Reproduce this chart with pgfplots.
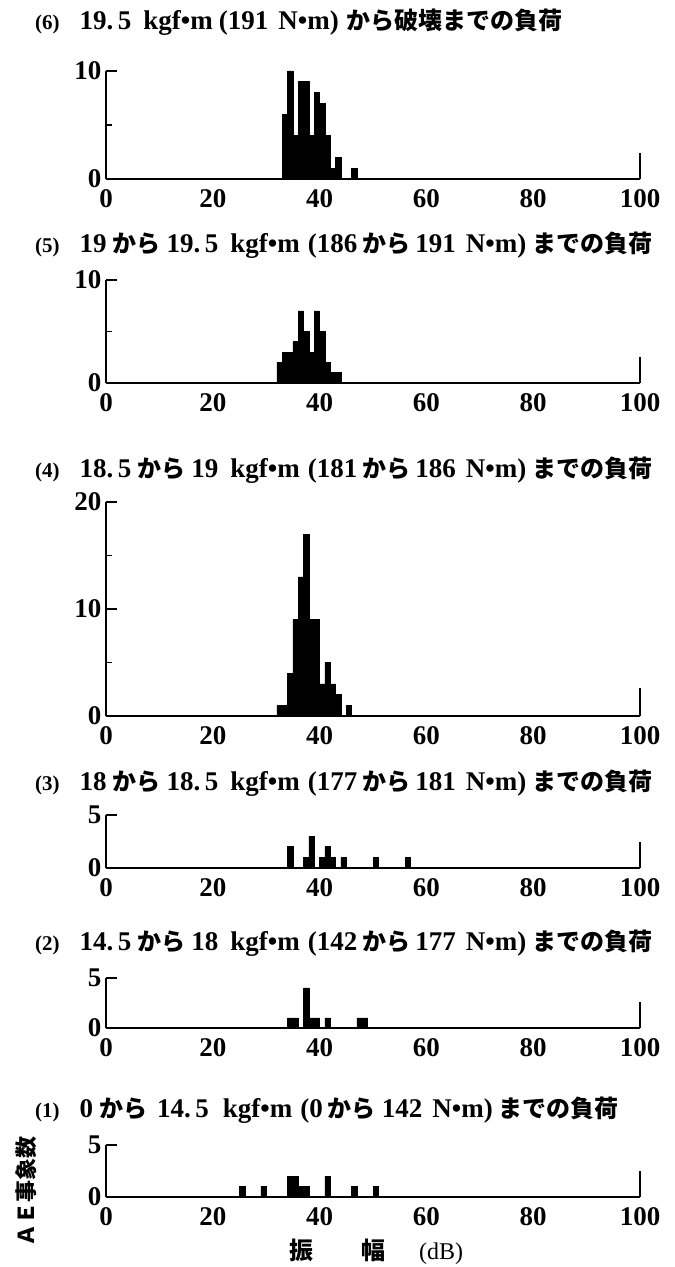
\documentclass[border=0pt]{standalone}
\usepackage{fontspec}
\setmainfont{Liberation Serif}
\newfontfamily\cjk{Noto Sans CJK JP}
\usepackage{pgfplots}
\pgfplotsset{compat=1.18}
\newcommand\ja[1]{{\fontsize{24}{26}\selectfont\cjk\bfseries #1}}
\newcommand\tfont{\fontsize{27}{28}\selectfont\bfseries}
\newcommand\nfont{\fontsize{21}{22}\selectfont\bfseries}
\newcommand\num[1]{{\nfont(#1)}\hspace{20pt}}
\pgfplotsset{
  panel/.style={
    scale only axis, width=534pt,
    xmin=0, xmax=100, ymin=0,
    axis lines*=left,
    axis line style={line width=2.5pt},
    xtick={0,20,40,60,80,100},
    major tick length=11pt, minor tick length=6pt,
    every tick/.style={black, line width=1.8pt},
    xtick style={draw=none},
    tick align=inside,
    ticklabel style={font=\fontsize{27}{27}\selectfont\bfseries},
    xticklabel style={yshift=-7pt},
    yticklabel style={xshift=-1pt},
    /pgf/number format/assume math mode=true,
    clip=false,
  },
  bars/.style={ybar, bar width=1, bar shift=0pt, fill=black, draw=black, line width=0.6pt},
  stub/.style={line width=2.5pt, black},
}
\begin{document}
\begin{tikzpicture}
\useasboundingbox (0,0) rectangle (675pt,1267pt);
% (6)
\node[anchor=west, inner sep=0] at (35pt,1245pt) {\tfont\num{6}19.\,5\hspace{12pt}kgf•m\hspace{6pt}(191\hspace{10pt}N•m)\hspace{8pt}\ja{から破壊までの負荷}};
\begin{axis}[panel, at={(106pt,1088pt)}, anchor=south west, height=108pt, ymax=10, ytick={0,10}, minor ytick={5}]
\addplot[bars] coordinates {(33.5,6) (34.5,10) (35.5,4) (36.5,9) (37.5,9) (38.5,4) (39.5,8) (40.5,7) (41.5,4) (42.5,1) (43.5,2) (46.5,1)};
\addplot[stub] coordinates {(100,0) (100,2.4)};
\end{axis}
% (5)
\node[anchor=west, inner sep=0] at (35pt,1022pt) {\tfont\num{5}19\hspace{6pt}\ja{から}\hspace{6pt}19.\,5\hspace{12pt}kgf•m\hspace{8pt}(186\hspace{5pt}\ja{から}\hspace{5pt}191\hspace{10pt}N•m)\hspace{6pt}\ja{までの負荷}};
\begin{axis}[panel, at={(106pt,884pt)}, anchor=south west, height=103pt, ymax=10, ytick={0,10}, minor ytick={5}]
\addplot[bars] coordinates {(32.5,2) (33.5,3) (34.5,3) (35.5,4) (36.5,7) (37.5,5) (38.5,3) (39.5,7) (40.5,5) (41.5,2) (42.5,1) (43.5,1)};
\addplot[stub] coordinates {(100,0) (100,2.5)};
\end{axis}
% (4)
\node[anchor=west, inner sep=0] at (35pt,797pt) {\tfont\num{4}18.\,5\hspace{6pt}\ja{から}\hspace{6pt}19\hspace{12pt}kgf•m\hspace{8pt}(181\hspace{5pt}\ja{から}\hspace{5pt}186\hspace{10pt}N•m)\hspace{6pt}\ja{までの負荷}};
\begin{axis}[panel, at={(106pt,551pt)}, anchor=south west, height=214pt, ymax=20, ytick={0,10,20}, minor ytick={5,15}]
\addplot[bars] coordinates {(32.5,1) (33.5,1) (34.5,4) (35.5,9) (36.5,13) (37.5,17) (38.5,9) (39.5,9) (40.5,3) (41.5,5) (42.5,3) (43.5,2) (45.5,1)};
\addplot[stub] coordinates {(100,0) (100,2.6)};
\end{axis}
% (3)
\node[anchor=west, inner sep=0] at (35pt,484pt) {\tfont\num{3}18\hspace{6pt}\ja{から}\hspace{6pt}18.\,5\hspace{12pt}kgf•m\hspace{8pt}(177\hspace{5pt}\ja{から}\hspace{5pt}181\hspace{10pt}N•m)\hspace{6pt}\ja{までの負荷}};
\begin{axis}[panel, at={(106pt,399pt)}, anchor=south west, height=53pt, ymax=5, ytick={0,5}]
\addplot[bars] coordinates {(34.5,2) (37.5,1) (38.5,3) (40.5,1) (41.5,2) (42.5,1) (44.5,1) (50.5,1) (56.5,1)};
\addplot[stub] coordinates {(100,0) (100,2.45)};
\end{axis}
% (2)
\node[anchor=west, inner sep=0] at (35pt,324pt) {\tfont\num{2}14.\,5\hspace{6pt}\ja{から}\hspace{6pt}18\hspace{12pt}kgf•m\hspace{8pt}(142\hspace{5pt}\ja{から}\hspace{5pt}177\hspace{10pt}N•m)\hspace{6pt}\ja{までの負荷}};
\begin{axis}[panel, at={(106pt,239pt)}, anchor=south west, height=50pt, ymax=5, ytick={0,5}]
\addplot[bars] coordinates {(34.5,1) (35.5,1) (37.5,4) (38.5,1) (39.5,1) (41.5,1) (47.5,1) (48.5,1)};
\addplot[stub] coordinates {(100,0) (100,2.6)};
\end{axis}
% (1)
\node[anchor=west, inner sep=0] at (35pt,157pt) {\tfont\num{1}0\hspace{6pt}\ja{から}\hspace{10pt}14.\,5\hspace{14pt}kgf•m\hspace{8pt}(0\hspace{5pt}\ja{から}\hspace{6pt}142\hspace{10pt}N•m)\hspace{6pt}\ja{までの負荷}};
\begin{axis}[panel, at={(106pt,70pt)}, anchor=south west, height=52pt, ymax=5, ytick={0,5}]
\addplot[bars] coordinates {(25.5,1) (29.5,1) (34.5,2) (35.5,2) (36.5,1) (37.5,1) (41.5,2) (46.5,1) (50.5,1)};
\addplot[stub] coordinates {(100,0) (100,2.5)};
\end{axis}
\node[rotate=90, inner sep=0] at (26pt,75pt) {\fontsize{22}{22}\selectfont\cjk\bfseries ＡＥ事象数};
\node[anchor=west, inner sep=0] at (289pt,15pt) {\fontsize{24}{24}\selectfont\ja{振}\hspace{48pt}\ja{幅}\hspace{34pt}(dB)};
\end{tikzpicture}
\end{document}
